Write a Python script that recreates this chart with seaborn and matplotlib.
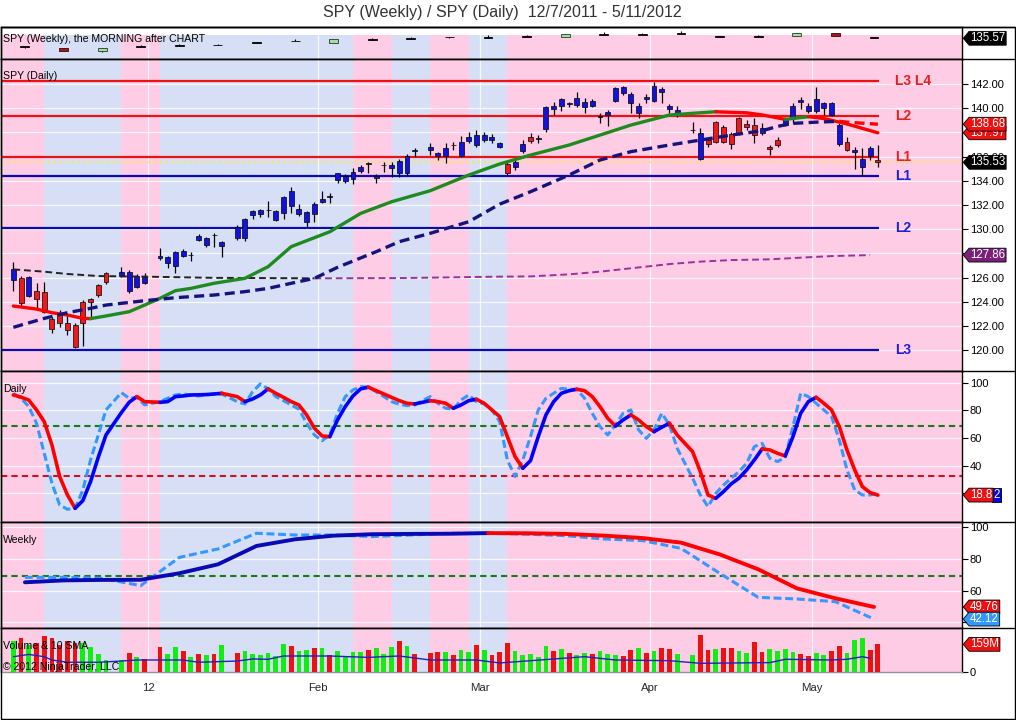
import numpy as np
import pandas as pd
import matplotlib
matplotlib.use("Agg")
import matplotlib.pyplot as plt
import seaborn as sns
from matplotlib.lines import Line2D
from matplotlib.patches import Rectangle
from matplotlib.path import Path

sns.set_theme(style="white")
plt.rcParams["font.family"] = ["Liberation Sans", "DejaVu Sans"]

# ---------------- data ----------------
start_day = "2011-12-07"
end_day = "2012-05-11"
holidays = ["2011-12-26", "2012-01-02", "2012-01-16", "2012-02-20", "2012-04-06"]

# daily SPY candles, one value per trading day
opens = [125.80, 125.94, 124.51, 124.92, 124.84, 122.55, 123.05, 122.22, 122.08, 123.96, 124.20, 125.39, 126.41, 126.13, 124.89, 125.25, 125.58,
         127.59, 127.18, 126.96, 127.81, 127.85, 129.11, 128.70, 129.50, 128.64, 129.25, 129.25, 131.17, 131.23, 131.57, 130.76, 131.31, 131.92, 131.23, 130.57, 131.23,
         132.27, 132.67, 134.07, 134.01, 134.15, 134.84, 135.42, 134.20, 135.29, 135.03, 134.62, 134.62, 136.47, 136.55, 136.08, 136.05, 136.94, 136.05, 137.32, 136.96,
         137.37, 137.37, 136.77, 135.36, 135.11, 136.49, 137.59, 137.49, 138.28, 139.93, 140.18, 140.38, 140.26, 140.13, 140.21, 139.28, 139.44, 140.62, 141.23, 140.46, 139.63, 140.73,
         140.62, 141.31, 139.91, 139.44, 138.18, 135.80, 137.37, 138.83, 138.47, 137.87, 139.16, 138.67, 138.61, 137.98, 136.77, 137.37, 138.61, 139.25, 140.49, 139.79,
         139.79, 139.99, 139.44, 137.02, 137.18, 136.36, 135.12, 136.08, 135.72]
highs = [127.26, 126.16, 126.16, 125.53, 125.61, 122.77, 123.32, 122.91, 122.22, 124.15, 124.34, 125.47, 126.49, 126.85, 126.63, 126.27, 126.35,
         128.42, 127.78, 128.23, 128.34, 128.14, 129.60, 129.38, 129.71, 129.02, 130.35, 130.95, 131.59, 131.67, 132.36, 131.59, 132.74, 133.52, 132.08, 131.53, 132.22,
         133.16, 133.02, 134.67, 134.53, 135.03, 135.31, 135.58, 134.53, 135.53, 135.53, 135.77, 136.21, 136.68, 137.10, 136.41, 137.10, 137.23, 137.70, 138.06, 138.20,
         138.06, 137.87, 137.23, 135.58, 135.80, 137.37, 137.98, 137.78, 140.18, 140.54, 140.81, 140.54, 141.31, 140.81, 140.73, 139.58, 139.85, 141.72, 141.83, 141.37, 140.40, 141.15,
         142.19, 141.72, 140.32, 140.21, 138.83, 138.34, 137.45, 138.94, 138.61, 138.06, 139.30, 139.02, 139.16, 138.75, 136.96, 137.64, 139.30, 140.40, 140.90, 140.40,
         141.78, 140.54, 140.54, 138.75, 137.59, 136.77, 136.68, 136.88, 136.96]
lows = [124.92, 123.68, 124.42, 123.32, 123.10, 121.45, 121.94, 121.26, 120.15, 120.35, 122.77, 124.42, 125.47, 126.08, 124.75, 125.17, 125.47,
        127.45, 126.77, 126.41, 127.73, 127.40, 129.05, 128.50, 128.56, 127.73, 129.11, 129.05, 130.82, 130.98, 130.98, 130.70, 130.82, 131.37, 131.09, 130.21, 130.62,
        132.14, 132.19, 133.79, 133.79, 133.74, 134.62, 134.62, 133.85, 134.75, 134.34, 134.34, 134.48, 136.00, 136.13, 135.72, 135.50, 136.55, 135.94, 137.10, 136.82,
        137.23, 137.10, 136.68, 134.48, 134.89, 136.27, 137.10, 137.10, 138.06, 139.44, 139.80, 140.13, 140.13, 139.63, 140.07, 138.75, 138.56, 140.54, 141.09, 139.63, 139.16, 140.40,
        140.54, 140.46, 139.58, 139.30, 137.92, 135.72, 136.77, 137.10, 137.10, 136.60, 137.78, 138.20, 137.10, 137.78, 136.13, 136.82, 138.55, 138.80, 139.90, 139.59,
        139.63, 139.44, 139.36, 136.88, 136.49, 134.97, 134.47, 135.70, 135.12]
closes = [126.68, 123.87, 126.08, 124.20, 123.18, 121.72, 122.22, 121.67, 120.29, 122.22, 123.96, 124.56, 125.66, 126.49, 126.49, 126.13, 126.08,
          127.78, 127.67, 128.09, 128.23, 127.90, 129.44, 129.25, 129.55, 128.97, 130.15, 130.82, 131.50, 131.59, 131.61, 131.50, 132.63, 133.18, 131.70, 131.39, 132.08,
          132.47, 132.71, 134.62, 134.42, 134.75, 135.17, 135.46, 134.42, 135.33, 135.31, 135.66, 136.05, 136.51, 136.82, 136.27, 136.68, 136.98, 137.18, 137.65, 137.78,
          137.78, 137.65, 137.09, 134.67, 135.58, 137.01, 137.32, 137.53, 140.07, 140.18, 140.73, 140.42, 140.87, 140.54, 140.62, 139.32, 139.71, 141.64, 141.72, 141.15, 140.21, 140.95,
          141.83, 141.59, 140.18, 139.85, 138.22, 137.98, 137.04, 137.23, 137.23, 137.04, 137.92, 138.47, 137.78, 138.34, 136.64, 136.96, 139.17, 140.18, 140.68, 140.18,
          140.73, 140.40, 140.40, 138.61, 136.55, 136.55, 135.78, 136.69, 135.53]
bar_paint = ("brbrrrrrrrrrrbbbb" + "bbbbbbbbbbbbbbbbbbbb" + "bbbbbbbbbbbbbbbbbbbb"
             + "bbbrbbrbbbbbbbbbbbbbbb" + "bbbbbbrrrrrrrbrrbbbb" + "bbbbrbbbr")

volume_m = [180, 197, 155, 168, 207, 193, 155, 180, 164, 164, 145, 101, 69, 69, 107, 88, 75,
            142, 101, 142, 121, 84, 101, 96, 101, 155, 107, 121, 101, 98, 107, 92, 161, 149, 121, 126, 140,
            136, 98, 121, 84, 113, 113, 126, 140, 103, 142, 176, 149, 103, 107, 113, 113, 98, 126, 113, 155,
            126, 98, 113, 165, 121, 98, 103, 84, 149, 121, 132, 107, 98, 107, 102, 121, 103, 98, 92, 126, 138, 109,
            121, 138, 132, 103, 98, 213, 126, 132, 138, 138, 121, 111, 172, 115, 132, 121, 132, 115, 103, 92,
            109, 98, 121, 149, 109, 184, 195, 126, 159]
volume_up = ("grgrrrrrrgggggrgr" + "rggrgrgrgrggggggrggr" + "grggggrgggrgrrrgrggr"
             + "grrrgggggrgrggrgggrrgr" + "grrggrrgrrggrrggggrr" + "ggrrgggrr")

vol_sma_dates = ["2011-12-07", "2011-12-09", "2011-12-13", "2011-12-14", "2011-12-16", "2011-12-22", "2011-12-27", "2011-12-29",
                 "2012-01-06", "2012-01-10", "2012-01-17", "2012-01-19", "2012-01-23", "2012-01-25", "2012-02-02", "2012-02-09",
                 "2012-02-15", "2012-02-21", "2012-02-29", "2012-03-05", "2012-03-09", "2012-03-20", "2012-03-26", "2012-04-04",
                 "2012-04-10", "2012-04-23", "2012-04-25", "2012-05-03", "2012-05-07", "2012-05-09", "2012-05-10"]
vol_sma = [88, 101, 88, 69, 56, 56, 63, 69, 69, 56, 63, 75, 73, 92, 92, 84, 92, 69, 69, 52, 65, 88, 69, 65, 50, 54, 73, 69, 73, 88, 79]

# moving averages on the daily chart
fast_dates = ["2011-12-07", "2011-12-12", "2011-12-14", "2011-12-16", "2011-12-20", "2011-12-21", "2011-12-23", "2011-12-28", "2011-12-30",
              "2012-01-03", "2012-01-05", "2012-01-09", "2012-01-12", "2012-01-18", "2012-01-23", "2012-01-26", "2012-02-02", "2012-02-08",
              "2012-02-14", "2012-02-21", "2012-02-28", "2012-03-05", "2012-03-09", "2012-03-16", "2012-03-22", "2012-03-28", "2012-04-04",
              "2012-04-09", "2012-04-12", "2012-04-18", "2012-04-20", "2012-04-25", "2012-04-30", "2012-05-02", "2012-05-07", "2012-05-11"]
fast_ma = [123.65, 123.40, 123.10, 122.91, 122.63, 122.61, 122.83, 123.18, 123.73, 124.29, 124.92, 125.11, 125.53, 125.94, 126.90, 128.56,
           129.79, 131.31, 132.27, 133.18, 134.48, 135.39, 136.13, 136.96, 137.78, 138.61, 139.44, 139.58, 139.71, 139.62, 139.45, 139.08,
           139.30, 139.15, 138.70, 137.97]
slow_dates = ["2011-12-07", "2011-12-13", "2011-12-16", "2011-12-21", "2011-12-23", "2011-12-30", "2012-01-05", "2012-01-12", "2012-01-18",
              "2012-01-23", "2012-01-26", "2012-01-31", "2012-02-03", "2012-02-10", "2012-02-15", "2012-02-21", "2012-02-28", "2012-03-05",
              "2012-03-09", "2012-03-16", "2012-03-22", "2012-03-28", "2012-04-04", "2012-04-10", "2012-04-16", "2012-04-20", "2012-04-24",
              "2012-04-26", "2012-05-01", "2012-05-04", "2012-05-07", "2012-05-11"]
slow_ma = [121.89, 122.63, 123.10, 123.46, 123.73, 124.09, 124.34, 124.56, 124.84, 125.11, 125.53, 125.94, 126.85, 128.14, 128.97, 129.66,
           130.62, 132.07, 133.10, 134.48, 135.72, 136.41, 136.96, 137.37, 137.78, 138.14, 138.50, 138.75, 138.85, 138.92, 138.85, 138.68]
long_dates = ["2011-12-07", "2011-12-13", "2011-12-16", "2011-12-22", "2011-12-30", "2012-01-12", "2012-01-31", "2012-02-15", "2012-03-05",
              "2012-03-09", "2012-03-16", "2012-03-22", "2012-03-28", "2012-04-04", "2012-04-10", "2012-04-16", "2012-04-23", "2012-04-27",
              "2012-05-03", "2012-05-10"]
long_ma = [126.68, 126.49, 126.30, 126.13, 126.08, 125.98, 125.94, 125.96, 126.08, 126.10, 126.27, 126.49, 126.77, 127.12, 127.32, 127.45,
           127.51, 127.65, 127.78, 127.86]

res_levels = [142.25, 139.36, 135.97]
res_names = ["L3 L4", "L2", "L1"]
sup_levels = [134.40, 130.12, 120.00]
sup_names = ["L1", "L2", "L3"]
price_ticks = [120, 122, 124, 126, 128, 130, 132, 134, 136, 138, 140, 142]

# daily stochastics
stoch_k = [91.1, 89.5, 87.4, 80.3, 71.9, 55.0, 32.2, 19.0, 9.3, 14.8, 28.5, 46.1, 62.2, 78.4, 85.8, 89.9, 86.3,
           85.8, 86.3, 89.9, 90.4, 91.1, 91.2, 91.4, 91.8, 92.3, 89.9, 86.3, 88.2, 91.1, 95.5, 92.3, 89.4, 86.3, 83.9, 76.7, 67.1,
           61.5, 61.0, 73.1, 82.7, 90.4, 95.5, 96.7, 94.2, 91.8, 89.4, 87.0, 85.1, 84.6, 87.0, 86.3, 85.1, 81.5, 83.9, 87.0, 88.0,
           85.1, 80.3, 75.5, 61.0, 46.6, 38.2, 43.7, 61.0, 76.7, 86.3, 92.3, 94.2, 95.2, 94.2, 89.9, 82.7, 74.3, 68.7, 73.1, 76.7, 73.1, 68.3,
           64.6, 67.8, 70.7, 62.2, 50.2, 35.8, 18.9, 16.5, 21.3, 26.9, 31.0, 37.0, 44.2, 52.1, 51.4, 49.0, 47.1, 61.0, 77.9, 86.3,
           89.4, 85.1, 80.3, 68.3, 51.4, 37.0, 24.9, 20.6, 18.82]
stoch_d = [92.3, 88.7, 82.7, 70.7, 49.0, 27.4, 11.7, 8.6, 9.3, 22.5, 44.2, 62.2, 80.3, 92.8, 88.7, 89.4, 83.9,
           86.3, 88.7, 91.1, 91.8, 91.1, 90.4, 91.1, 91.8, 91.8, 86.3, 84.6, 93.5, 99.1, 95.5, 89.9, 87.0, 83.9, 80.8, 70.7, 62.2,
           58.1, 62.2, 77.9, 89.9, 94.7, 97.1, 96.7, 93.5, 89.9, 86.3, 84.4, 83.4, 83.9, 89.9, 85.1, 81.5, 80.8, 87.5, 91.1, 86.3,
           84.6, 80.3, 71.9, 44.2, 32.2, 44.2, 61.0, 80.3, 88.7, 92.3, 95.9, 95.2, 95.2, 88.7, 77.9, 68.3, 62.2, 69.5, 77.9, 80.3, 65.9, 59.8,
           65.9, 77.9, 69.5, 52.6, 31.0, 18.9, 10.5, 20.1, 26.1, 31.0, 35.8, 41.8, 53.8, 56.2, 45.4, 43.0, 46.1, 68.3, 92.3, 89.9,
           85.1, 80.3, 75.5, 58.6, 37.0, 22.5, 18.9, 18.9, 20.1]
stoch_hi, stoch_lo = 69, 32.5

# weekly series (one per week, ending Friday)
wk_open = [125.9, 123.9, 120.5, 125.1, 126.3, 127.1, 130.2, 131.9, 129.8, 134.0, 135.2, 136.6, 136.4, 137.1, 136.8, 140.0, 140.0, 141.2, 137.1, 137.2, 138.3, 141.4, 136.6]
wk_high = [126.0, 124.0, 124.2, 127.6, 128.6, 129.2, 131.5, 134.3, 134.4, 136.2, 137.6, 137.2, 139.0, 139.6, 140.4, 142.8, 142.0, 144.0, 138.1, 139.2, 141.6, 142.0, 136.8]
wk_low = [123.6, 120.8, 119.0, 125.0, 126.2, 127.0, 130.1, 131.8, 129.6, 133.9, 135.1, 136.4, 136.3, 137.0, 136.6, 139.9, 139.8, 141.1, 137.0, 137.1, 138.1, 138.5, 135.4]
wk_close = [125.1, 120.9, 124.0, 125.9, 127.1, 127.9, 131.4, 132.7, 134.2, 134.8, 136.0, 137.0, 137.2, 137.9, 140.2, 140.8, 140.8, 142.0, 137.9, 137.8, 141.4, 138.6, 135.57]
wk_kind = "krgkkkkkgkkkkkgkkkkkgrk"
wk_shade = "pbbpbbbbbpbpbpppppppppp"
wk_stoch_k = [65.3, 66.5, 66.8, 66.9, 71.0, 76.6, 88.2, 92.4, 94.7, 95.6, 95.8, 95.9, 96.3, 96.2, 95.8, 94.7, 93.2, 90.3, 82.9, 73.5, 61.5, 55.2, 49.76]
wk_stoch_d = [68.4, 68.4, 67.8, 63.2, 81.0, 86.3, 96.2, 95.1, 95.1, 94.1, 95.1, 96.2, 96.2, 95.6, 94.7, 92.6, 91.6, 86.7, 71.0, 55.8, 54.8, 53.1, 42.12]

month_labels = ["12", "Feb", "Mar", "Apr", "May"]

# ---------------- helpers ----------------
PINK, BLUE = "#ffcce6", "#d6dff5"
RED, NAVY = "#ff0000", "#14147a"
TAG_FS = 8.3


def slot(dates):
    d = pd.to_datetime(dates).values.astype("datetime64[D]")
    return np.busday_count(np.datetime64(start_day), d).astype(float)


days = pd.bdate_range(start_day, end_day)
days = days[~days.isin(pd.to_datetime(holidays))]
x_day = slot(days)
week_ends = pd.date_range("2011-12-09", end_day, freq="W-FRI")
x_week = slot(week_ends) - 0.5
month_x = slot(pd.date_range("2012-01-01", "2012-05-01", freq="MS")) - 0.5
XL, XR = -1.6, 122.9


def slope_line(ax, x, y, up, down, **kw):
    x = np.asarray(x, float)
    y = np.asarray(y, float)
    cols = [up if y[i + 1] >= y[i] else down for i in range(len(y) - 1)]
    i = 0
    while i < len(cols):
        j = i
        while j + 1 < len(cols) and cols[j + 1] == cols[i]:
            j += 1
        ax.plot(x[i:j + 2], y[i:j + 2], color=cols[i], **kw)
        i = j + 1


def tag_shape(x0, y0, width, height, mutation_size):
    pad = mutation_size * 0.08
    x0, y0 = x0 - pad, y0 - pad
    w, h = width + 2 * pad, height + 2 * pad
    tip = h * 0.42
    return Path([(x0, y0), (x0 + w, y0), (x0 + w, y0 + h), (x0, y0 + h), (x0 - tip, y0 + h / 2), (x0, y0)], closed=True)


def tag(ax, v, text, fc, dx=8, style=tag_shape):
    ax.annotate(text, xy=(1, v), xycoords=("axes fraction", "data"), xytext=(dx, 0),
                textcoords="offset pixels", ha="left", va="center", fontsize=TAG_FS,
                color="white", annotation_clip=False, zorder=10,
                bbox=dict(boxstyle=style, fc=fc, ec="black", lw=0.6))


def shade(ax, top=1.0):
    for i, (xw, s) in enumerate(zip(x_week, wk_shade)):
        a = XL if i == 0 else xw - 2.5
        b = XR if i == len(x_week) - 1 else xw + 2.5
        ax.axvspan(a, b, ymax=top, color=PINK if s == "p" else BLUE, lw=0, zorder=0)


def grid(ax, yt):
    for m in month_x:
        ax.axvline(m, color="white", lw=0.9, alpha=0.8, zorder=0.5)
    for y in yt:
        ax.axhline(y, color="white", lw=0.9, alpha=0.8, zorder=0.5)


# ---------------- figure ----------------
fig = plt.figure(figsize=(10.16, 7.2), dpi=100)


def panel(top_px, bot_px):
    return fig.add_axes([1 / 1016, 1 - bot_px / 720, 961 / 1016, (bot_px - top_px) / 720])


ax_wk = panel(27, 59)
ax_px = panel(59, 371)
ax_ds = panel(371, 522)
ax_ws = panel(522, 628)
ax_v = panel(628, 672)

for ax in [ax_wk, ax_px, ax_ds, ax_ws, ax_v]:
    ax.set_xlim(XL, XR)
    ax.yaxis.tick_right()
    ax.tick_params(axis="y", direction="out", length=4.5, width=0.8, pad=1, labelsize=8, colors="black")
    ax.tick_params(axis="x", length=0, labelbottom=False)
    ax.set_xticks([])
    for sp in ax.spines.values():
        sp.set_color("black")
        sp.set_linewidth(1)

# weekly candles panel
shade(ax_wk, top=0.76)
grid(ax_wk, [])
ax_wk.set_ylim(110.7, 149.1)
ax_wk.set_yticks([])
wk_face = {"k": "black", "g": "#a6dca6", "r": "#a3181c"}
wk_edge = {"k": "black", "g": "#1f3f1f", "r": "#3a0505"}
ax_wk.vlines(x_week, wk_low, wk_high, color="black", lw=0.8, zorder=3)
ax_wk.bar(x_week, np.maximum(np.abs(np.subtract(wk_close, wk_open)), 0.6), bottom=np.minimum(wk_open, wk_close),
          width=1.15, color=[wk_face[k] for k in wk_kind], edgecolor=[wk_edge[k] for k in wk_kind], linewidth=0.6, zorder=4)
tag(ax_wk, wk_close[-1], f"{wk_close[-1]:.2f}", "black")

# daily price panel
shade(ax_px)
grid(ax_px, price_ticks)
ax_px.set_ylim(118.28, 144.07)
ax_px.set_yticks(price_ticks)
# the 138.00 label sits fully under the value tags, as on the original
ax_px.set_yticklabels(["" if t == 138 else f"{t:.2f}" for t in price_ticks])
last_x = x_day[-1]
ax_px.hlines(res_levels, XL, last_x + 0.1, color="#ee1111", lw=1.6, zorder=2)
ax_px.hlines(sup_levels, XL, last_x + 0.1, color="#0c0ca8", lw=1.6, zorder=2)
for v, n in zip(res_levels, res_names):
    ax_px.text(last_x + 2.2, v, n, color="#e8201e", fontsize=10, fontweight="bold", va="center")
for v, n in zip(sup_levels, sup_names):
    ax_px.text(last_x + 2.2, v, n, color="#1f1fd8", fontsize=10, fontweight="bold", va="center")
ax_px.axhline(closes[-1], color="#ffe650", lw=1.6, ls=":", zorder=2.5)

paint = {"b": "#1212e0", "r": "#ee1a1a"}
ax_px.vlines(x_day, lows, highs, color="black", lw=0.9, zorder=3)
ax_px.bar(x_day, np.maximum(np.abs(np.subtract(closes, opens)), 0.05), bottom=np.minimum(opens, closes), width=0.64,
          color=[paint[p] for p in bar_paint], edgecolor="black", linewidth=0.5, zorder=4)

slope_line(ax_px, slot(long_dates), long_ma, "#993399", "#222222", lw=1.4, dashes=(3.5, 2), zorder=5)
slope_line(ax_px, slot(fast_dates), fast_ma, "#1f8a1f", RED, lw=2.4, solid_capstyle="round", zorder=5)
slope_line(ax_px, slot(slow_dates), slow_ma, NAVY, RED, lw=2.4, dashes=(3, 1.6), zorder=5)
tag(ax_px, fast_ma[-1], f"{fast_ma[-1]:.2f}", "#ee1111")
tag(ax_px, slow_ma[-1], f"{slow_ma[-1]:.2f}", "#ee1111")
tag(ax_px, closes[-1], f"{closes[-1]:.2f}", "black")
tag(ax_px, long_ma[-1], f"{long_ma[-1]:.2f}", "#7a1f7a")

# daily stochastics
shade(ax_ds)
grid(ax_ds, [20, 40, 60, 80, 100])
ax_ds.set_ylim(-0.6, 108.4)
ax_ds.set_yticks([20, 40, 60, 80, 100])
ax_ds.set_yticklabels(["", "40", "60", "80", "100"])
ax_ds.axhline(stoch_hi, color="#1a7a1a", lw=1.5, dashes=(3, 2), zorder=2)
ax_ds.axhline(stoch_lo, color="#c8141e", lw=1.5, dashes=(3, 2), zorder=2)
sns.lineplot(x=x_day, y=stoch_d, ax=ax_ds, color="#3399ff", lw=2.2, zorder=4)
ax_ds.lines[-1].set_dashes((2.6, 1.2))
slope_line(ax_ds, x_day, stoch_k, "#0000ff", RED, lw=2.6, solid_capstyle="round", zorder=5)
# end value tag: red part carries "18.8", the blue part behind it shows the last digit
k_txt = f"{stoch_k[-1]:.2f}"
tag(ax_ds, stoch_k[-1], k_txt[-1], "#0000e0", dx=31, style="square,pad=0.1")
tag(ax_ds, stoch_k[-1], k_txt[:-1], "#ee1111")

# weekly stochastics
shade(ax_ws)
grid(ax_ws, [40, 60, 80, 100])
ax_ws.set_ylim(36.5, 103.3)
ax_ws.set_yticks([40, 60, 80, 100])
ax_ws.axhline(stoch_hi, color="#1a7a1a", lw=1.5, dashes=(3, 2), zorder=2)
sns.lineplot(x=x_week, y=wk_stoch_d, ax=ax_ws, color="#3399ff", lw=2.2, zorder=4)
ax_ws.lines[-1].set_dashes((2.6, 1.2))
slope_line(ax_ws, x_week, wk_stoch_k, "#0a0ab4", RED, lw=2.8, solid_capstyle="round", zorder=5)
tag(ax_ws, wk_stoch_k[-1], f"{wk_stoch_k[-1]:.2f}", "#ee1111")
tag(ax_ws, wk_stoch_d[-1], f"{wk_stoch_d[-1]:.2f}", "#3399ff")

# volume
shade(ax_v)
grid(ax_v, [])
ax_v.set_ylim(0, 253)
ax_v.set_yticks([0])
ax_v.bar(x_day, volume_m, width=0.62, color=["#11ee11" if u == "g" else "#ee1111" for u in volume_up], lw=0, zorder=3)
sns.lineplot(x=slot(vol_sma_dates), y=vol_sma, ax=ax_v, color="#2020c0", lw=1.0, zorder=4)
ax_v.spines["bottom"].set_color("#9090a0")
ax_v.set_xticks(month_x)
ax_v.set_xticklabels(month_labels)
ax_v.tick_params(axis="x", length=5, width=0.8, direction="out", pad=3, labelsize=8.2, labelbottom=True)
tag(ax_v, volume_m[-1], f"{volume_m[-1]}M", "#ee1111")
for ax in [ax_wk, ax_px, ax_ds, ax_ws, ax_v]:
    ax.set_xlim(XL, XR)
    ax.set_xlabel("")
    ax.set_ylabel("")


# texts and frame
def fxy(x, y):
    return x / 1016, 1 - y / 720


fig.text(*fxy(502, 13), "SPY (Weekly) / SPY (Daily)  12/7/2011 - 5/11/2012", ha="center", va="center",
         fontsize=11.5, color="#333333")
for x, y, s in [(3, 39, "SPY (Weekly), the MORNING after CHART"), (3, 76, "SPY (Daily)"), (3, 389, "Daily"),
                (3, 540, "Weekly"), (3, 646, "Volume & 10 SMA"), (3, 667, "\u00a9 2012 NinjaTrader, LLC")]:
    fig.text(*fxy(x, y), s, ha="left", va="center", fontsize=7.6, color="black", zorder=20)

for y in [27, 59, 371, 522, 628]:
    fig.add_artist(Line2D([1 / 1016, 1015 / 1016], [1 - y / 720] * 2, color="black", lw=1))
fig.add_artist(Rectangle(fxy(1, 719), 1014 / 1016, 692 / 720, fill=False, ec="black", lw=1, transform=fig.transFigure))

fig.savefig("out.png", dpi=100, facecolor="white")
